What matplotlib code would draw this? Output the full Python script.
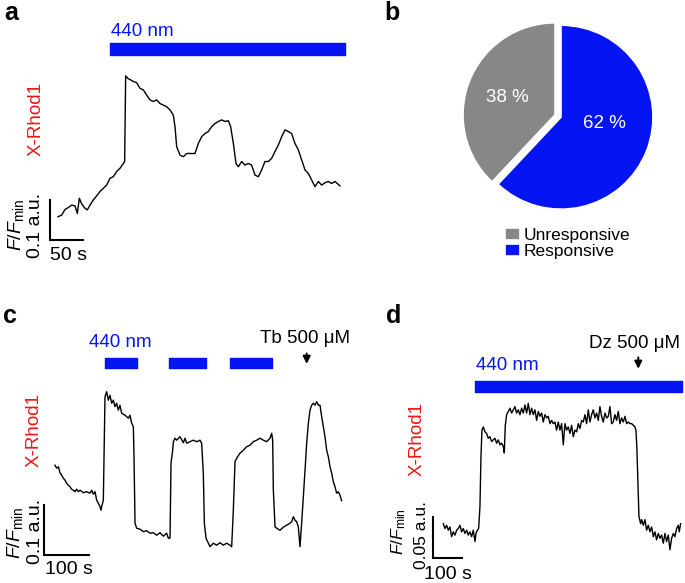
import matplotlib
matplotlib.use("Agg")
import matplotlib.pyplot as plt

plt.rcParams['font.family'] = ['Liberation Sans', 'DejaVu Sans']
plt.rcParams['mathtext.fontset'] = 'custom'
plt.rcParams['mathtext.rm'] = 'Liberation Sans'
plt.rcParams['mathtext.it'] = 'Liberation Sans:italic'

BLUE = '#0514f2'
GREY = '#878787'
RED = '#f21414'

# ---- panel a: trace (time s, F/Fmin) ----
a_t = [0, 5.6, 10.6, 15.7, 20.7, 25.8, 29.3, 32.3, 35.9, 40.9, 44.4, 48.5, 53.5, 58.6, 63.6,
       68.7, 73.7, 78.8, 83.8, 88.9, 93.9, 99.0, 101.0, 102.5, 105.6, 110.1, 114.1, 119.2,
       124.2, 129.3, 134.3, 139.4, 144.4, 149.5, 154.5, 159.6, 164.6, 169.7, 174.7, 177.3,
       179.8, 184.8, 189.9, 194.9, 202.5, 207.6, 212.6, 217.7, 222.7, 227.8, 232.8, 237.9,
       242.9, 248.0, 253.0, 258.1, 261.6, 265.7, 269.7, 273.2, 278.3, 283.3, 288.4, 293.4,
       298.5, 303.5, 308.6, 313.6, 318.7, 323.7, 328.8, 333.8, 338.9, 343.9, 349.0, 354.0,
       359.1, 364.1, 369.2, 374.2, 379.3, 384.3, 389.4, 394.4, 399.5, 404.5, 409.6, 414.6,
       419.7, 427.3]
a_f = [1.000, 1.004, 1.018, 1.023, 1.029, 1.027, 1.008, 1.046, 1.032, 1.021, 1.017, 1.029,
       1.042, 1.052, 1.063, 1.071, 1.079, 1.096, 1.100, 1.113, 1.121, 1.133, 1.138, 1.352,
       1.346, 1.342, 1.338, 1.335, 1.321, 1.317, 1.304, 1.292, 1.288, 1.292, 1.283, 1.279,
       1.275, 1.267, 1.254, 1.225, 1.175, 1.154, 1.150, 1.158, 1.158, 1.158, 1.183, 1.200,
       1.208, 1.213, 1.225, 1.233, 1.238, 1.242, 1.238, 1.240, 1.225, 1.183, 1.133, 1.125,
       1.138, 1.129, 1.133, 1.129, 1.104, 1.100, 1.117, 1.138, 1.138, 1.146, 1.163, 1.179,
       1.200, 1.217, 1.213, 1.208, 1.183, 1.167, 1.142, 1.117, 1.108, 1.092, 1.075, 1.088,
       1.079, 1.085, 1.088, 1.083, 1.088, 1.077]
a_light = [(78.8, 356.0)]

# ---- panel b: pie ----
pie_labels = ['Unresponsive', 'Responsive']
pie_values = [38, 62]

# ---- panel c ----
c_t = [0, 3.7, 7.4, 11.1, 14.8, 18.5, 22.2, 25.9, 29.6, 33.3, 37.0, 40.7, 44.4, 48.1, 51.9,
       55.6, 63.0, 70.4, 77.8, 81.5, 85.2, 88.9, 92.6, 96.3, 100.0, 102.2, 103.7, 107.4,
       111.1, 114.8, 118.5, 122.2, 125.9, 129.6, 133.3, 137.0, 140.7, 144.4, 148.1, 155.6,
       163.0, 166.7, 170.4, 174.1, 175.6, 177.8, 181.5, 188.9, 196.3, 203.7, 211.1, 218.5,
       225.9, 233.3, 240.7, 248.1, 251.9, 255.6, 257.8, 261.5, 263.0, 266.7, 270.4, 277.8,
       285.2, 288.9, 292.6, 300.0, 307.4, 314.8, 322.2, 325.9, 329.6, 331.9, 335.6, 340.7,
       344.4, 351.9, 359.3, 366.7, 374.1, 381.5, 388.9, 392.6, 396.3, 400.0, 403.7, 411.1,
       418.5, 425.9, 433.3, 440.7, 448.1, 455.6, 463.0, 470.4, 477.8, 481.5, 483.7, 485.2,
       488.9, 492.6, 500.0, 507.4, 514.8, 522.2, 525.9, 529.6, 533.3, 537.0, 540.7, 544.4,
       548.1, 551.9, 555.6, 559.3, 563.0, 566.7, 570.4, 574.1, 577.8, 581.5, 585.2, 588.9,
       592.6, 596.3, 600.0, 603.7, 607.4, 611.1, 614.8, 618.5, 622.2, 625.9, 629.6, 633.3,
       637.0]
c_f = [1.163, 1.157, 1.160, 1.148, 1.143, 1.137, 1.133, 1.127, 1.123, 1.120, 1.115, 1.113,
       1.110, 1.115, 1.110, 1.113, 1.108, 1.110, 1.107, 1.113, 1.105, 1.110, 1.093, 1.087,
       1.080, 1.073, 1.080, 1.093, 1.300, 1.310, 1.293, 1.303, 1.287, 1.293, 1.280, 1.287,
       1.273, 1.283, 1.267, 1.263, 1.257, 1.263, 1.247, 1.240, 1.180, 1.047, 1.037, 1.035,
       1.030, 1.032, 1.027, 1.028, 1.023, 1.028, 1.021, 1.027, 1.017, 1.017, 1.167, 1.193,
       1.210, 1.217, 1.213, 1.220, 1.208, 1.217, 1.207, 1.210, 1.213, 1.210, 1.213, 1.207,
       1.147, 1.047, 1.017, 1.007, 1.000, 1.007, 1.003, 1.008, 1.003, 1.007, 1.003, 1.000,
       1.073, 1.170, 1.177, 1.187, 1.193, 1.200, 1.203, 1.210, 1.213, 1.217, 1.213, 1.210,
       1.217, 1.227, 1.213, 1.113, 1.040, 1.037, 1.033, 1.039, 1.043, 1.047, 1.050, 1.060,
       1.053, 1.050, 1.040, 1.000, 1.047, 1.100, 1.153, 1.207, 1.247, 1.273, 1.283, 1.287,
       1.283, 1.290, 1.283, 1.283, 1.260, 1.240, 1.220, 1.193, 1.180, 1.160, 1.147, 1.130,
       1.120, 1.107, 1.110, 1.103, 1.092]
c_light = [(111.1, 70.4), (254.1, 80.7), (388.9, 92.6)]
c_drug_t = 559.3

# ---- panel d ----
d_t = [0, 5.9, 11.8, 17.6, 23.5, 29.4, 35.3, 41.2, 47.1, 52.9, 58.8, 64.7, 70.6, 76.5, 82.4,
       88.2, 94.1, 100.0, 105.9, 111.8, 115.3, 120.0, 124.7, 129.4, 132.9, 136.5, 141.2,
       147.1, 152.9, 158.8, 164.7, 170.6, 176.5, 182.4, 188.2, 194.1, 200.0, 205.9, 211.8,
       215.3, 218.8, 223.5, 229.4, 235.3, 241.2, 247.1, 252.9, 258.8, 264.7, 270.6, 276.5,
       282.4, 288.2, 294.1, 300.0, 305.9, 311.8, 317.6, 323.5, 329.4, 335.3, 341.2, 347.1,
       352.9, 358.8, 364.7, 370.6, 376.5, 382.4, 388.2, 394.1, 400.0, 405.9, 411.8, 417.6,
       423.5, 429.4, 435.3, 441.2, 447.1, 452.9, 458.8, 464.7, 470.6, 476.5, 482.4, 488.2,
       494.1, 500.0, 505.9, 511.8, 517.6, 523.5, 529.4, 535.3, 541.2, 547.1, 552.9, 558.8,
       564.7, 570.6, 576.5, 582.4, 588.2, 594.1, 600.0, 605.9, 611.8, 617.6, 623.5, 629.4,
       635.3, 641.2, 647.1, 652.9, 658.8, 664.7, 670.6, 676.5, 680.0, 683.5, 687.1, 690.6,
       696.5, 700.0, 705.9, 711.8, 717.6, 723.5, 729.4, 735.3, 741.2, 747.1, 752.9, 758.8,
       764.7, 770.6, 776.5, 782.4, 788.2, 794.1, 800.0, 805.9, 811.8, 817.6, 823.5, 829.4,
       832.9, 837.6]
d_f = [1.016, 1.010, 1.014, 1.008, 1.012, 1.000, 1.006, 1.002, 1.008, 1.010, 1.014, 1.006,
       1.010, 1.004, 1.008, 1.002, 1.006, 1.000, 1.008, 0.994, 1.004, 1.008, 1.010, 1.037,
       1.098, 1.131, 1.135, 1.129, 1.127, 1.121, 1.123, 1.117, 1.119, 1.121, 1.115, 1.119,
       1.113, 1.115, 1.111, 1.103, 1.137, 1.150, 1.154, 1.158, 1.152, 1.156, 1.160, 1.152,
       1.156, 1.150, 1.158, 1.152, 1.162, 1.152, 1.164, 1.150, 1.158, 1.150, 1.156, 1.143,
       1.154, 1.148, 1.152, 1.141, 1.150, 1.146, 1.148, 1.139, 1.143, 1.139, 1.141, 1.131,
       1.141, 1.131, 1.139, 1.113, 1.139, 1.131, 1.135, 1.127, 1.137, 1.123, 1.131, 1.129,
       1.139, 1.133, 1.143, 1.141, 1.150, 1.139, 1.156, 1.141, 1.150, 1.156, 1.146, 1.152,
       1.143, 1.160, 1.148, 1.141, 1.152, 1.146, 1.148, 1.160, 1.139, 1.141, 1.150, 1.143,
       1.154, 1.139, 1.146, 1.141, 1.148, 1.139, 1.141, 1.139, 1.139, 1.137, 1.135, 1.131,
       1.107, 1.066, 1.025, 1.016, 1.021, 1.014, 1.021, 1.008, 1.014, 1.006, 1.012, 1.000,
       1.006, 0.996, 1.004, 0.998, 1.002, 0.992, 1.004, 0.994, 1.002, 0.984, 0.998, 1.004,
       1.000, 1.010, 1.014, 1.006, 1.016]
d_light = [(111.8, 729.4)]
d_drug_t = 688.2

W, H = 685, 583
fig = plt.figure(figsize=(W / 100, H / 100), dpi=100)


def fx(x):
    return x / W


def fy(y):
    return 1 - y / H


def trace_axes(left, right, top, bottom, x0px, pxs, y0px, pxv):
    # axes placed in pixel box, data: t=0 at x0px, F=1 at y0px
    ax = fig.add_axes([fx(left), fy(bottom), (right - left) / W, (bottom - top) / H])
    ax.set_xlim((left - x0px) / pxs, (right - x0px) / pxs)
    ax.set_ylim(1 - (bottom - y0px) / pxv, 1 + (y0px - top) / pxv)
    ax.axis('off')
    return ax


def scalebar(ax, t0, f0, dt, df):
    ax.plot([t0, t0, t0 + dt], [f0 + df, f0, f0], color='k', lw=1.5,
            solid_joinstyle='miter', clip_on=False)


def vtext(x, y, s, size, color='k'):
    fig.text(fx(x), fy(y), s, rotation=90, ha='center', va='center',
             fontsize=size, color=color)


def drug_arrow(ax, t, f_tip, f_tail):
    ax.annotate('', xy=(t, f_tip), xytext=(t, f_tail),
                arrowprops=dict(arrowstyle='-|>', color='k', lw=1.4, mutation_scale=11))


# panel a
ax_a = trace_axes(40, 360, 30, 262, 58, 0.66, 216.7, 400)
ax_a.plot(a_t, a_f, color='k', lw=1.0)
ax_a.broken_barh(a_light, (1.405, 0.03), color=BLUE)
scalebar(ax_a, -12.1, 0.942, 50, 0.1)
fig.text(fx(4), fy(20), 'a', fontsize=18, fontweight='bold', va='baseline')
fig.text(fx(111), fy(36), '440 nm', fontsize=13.5, color=BLUE, va='baseline')
vtext(36.5, 119, 'X-Rhod1', 13.5, RED)
vtext(15.5, 225, r'$F/F_{\mathrm{min}}$', 14)
vtext(35, 225, '0.1 a.u.', 14)
fig.text(fx(50), fy(260), '50 s', fontsize=14, va='baseline')

# panel b
ax_b = fig.add_axes([fx(458), fy(216), 200 / W, 200 / H])
wedges, _, autotexts = ax_b.pie(pie_values[::-1], colors=[BLUE, GREY], startangle=90,
                                counterclock=False, explode=[0.035, 0.035],
                                autopct='%d %%', pctdistance=0.58,
                                wedgeprops=dict(edgecolor='white', linewidth=1.2),
                                textprops=dict(color='white', fontsize=13.5))
autotexts[0].set_position((0.5, -0.08))
autotexts[1].set_position((-0.55, 0.2))
ax_b.set_xlim(-1.087, 1.087)
ax_b.set_ylim(-1.087, 1.087)
ax_b.set_aspect('equal')
fig.text(fx(384), fy(20), 'b', fontsize=18, fontweight='bold', va='baseline')
fig.legend([wedges[1], wedges[0]], pie_labels, loc='upper left',
           bbox_to_anchor=(fx(505), fy(228)), frameon=False, fontsize=12.5,
           handlelength=0.85, handleheight=0.7, handletextpad=0.25,
           labelspacing=0.05, borderpad=0, borderaxespad=0)

# panel c
ax_c = trace_axes(40, 370, 340, 565, 55, 0.45, 546.7, 500)
ax_c.plot(c_t, c_f, color='k', lw=1.0)
ax_c.broken_barh(c_light, (1.357, 0.02), color=BLUE)
scalebar(ax_c, -23.7, 0.983, 100, 0.1)
drug_arrow(ax_c, c_drug_t, 1.360, 1.392)
fig.text(fx(3), fy(323), 'c', fontsize=18, fontweight='bold', va='baseline')
fig.text(fx(89), fy(347), '440 nm', fontsize=13.5, color=BLUE, va='baseline')
fig.text(fx(260), fy(343), 'Tb 500 μM', fontsize=13.5, va='baseline')
vtext(34.5, 430, 'X-Rhod1', 13.5, RED)
vtext(15, 533, r'$F/F_{\mathrm{min}}$', 14)
vtext(35, 531, '0.1 a.u.', 14)
fig.text(fx(45), fy(574), '100 s', fontsize=14, va='baseline')

# panel d
ax_d = trace_axes(425, 685, 340, 570, 443.3, 0.2833, 536.7, 813.3)
ax_d.plot(d_t, d_f, color='k', lw=1.0)
ax_d.broken_barh(d_light, (1.178, 0.0135), color=BLUE)
scalebar(ax_d, -35.3, 0.974, 100, 0.05)
drug_arrow(ax_d, d_drug_t, 1.203, 1.224)
fig.text(fx(386), fy(323), 'd', fontsize=18, fontweight='bold', va='baseline')
fig.text(fx(476), fy(370), '440 nm', fontsize=13.5, color=BLUE, va='baseline')
fig.text(fx(589), fy(348), 'Dz 500 μM', fontsize=13.5, va='baseline')
vtext(417.5, 439, 'X-Rhod1', 13.5, RED)
vtext(399, 532, r'$F/F_{\mathrm{min}}$', 12.5)
vtext(421, 535, '0.05 a.u.', 12.5)
fig.text(fx(424), fy(579), '100 s', fontsize=14, va='baseline')

fig.savefig('out.png', dpi=100)
